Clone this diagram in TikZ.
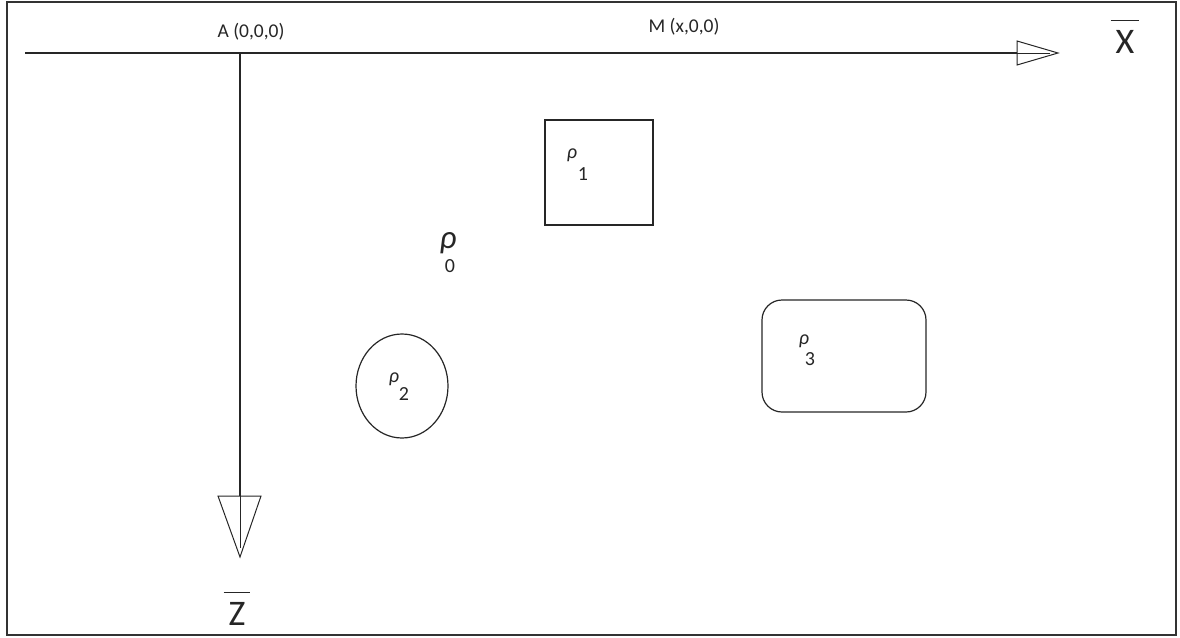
\documentclass[tikz,border=0pt]{standalone}
\usepackage{fontspec}
\usetikzlibrary{shapes.geometric}
\setmainfont{Carlito}
\begin{document}
\begin{tikzpicture}[x=1pt,y=-1pt,
  axis/.style={line width=1.6pt,black!85},
  tip/.style={line width=1pt,black!85,fill=white},
  shp/.style={line width=1.2pt,black!85},
  lab/.style={font=\fontsize{19.5}{21}\selectfont,inner sep=0pt,black!85},
  big/.style={font=\fontsize{36}{38}\selectfont,inner sep=0pt,black!85},
  rhob/.style={font=\fontsize{33}{35}\selectfont\itshape,inner sep=0pt,black!85},
  rhos/.style={font=\fontsize{20}{22}\selectfont\itshape,inner sep=0pt,black!85},
  sub/.style={font=\fontsize{20}{22}\selectfont,inner sep=0pt,black!85}]
\useasboundingbox (0,0) rectangle (1180,637);
\draw[line width=1.5pt,black!80] (7,2) rectangle (1176,635);
% axes
\coordinate (xs) at (25,53);
\coordinate (xb) at (1017,53);
\coordinate (xt) at (1058,53);
\coordinate (zs) at (240,53);
\coordinate (zb) at (240,496);
\coordinate (zt) at (240,557);
\draw[axis] (xs) -- (xb);
\draw[axis] (zs) -- (zb);
\draw[tip] (1017,41) -- (xt) -- (1017,65) -- cycle;
\draw[tip] (218,496) -- (zt) -- (261,496) -- cycle;
\draw[line width=1pt,black!85] (xb) -- (1050,53);
\draw[line width=1pt,black!85] (zb) -- (240,548);
\node[lab] (A) at (251,32) {A (0,0,0)};
\node[lab] (M) at (684,27) {M (x,0,0)};
\node[big,anchor=base] (X) at (1125,53) {$\overline{\mbox{\kern5pt\rule{0pt}{0.86em}X\kern5pt}}$};
\node[big,anchor=base] (Z) at (237,625) {$\overline{\mbox{\kern5pt\rule{0pt}{0.86em}Z\kern5pt}}$};
% shapes
\node[shp,draw,minimum width=108pt,minimum height=105pt,inner sep=0pt] (sq) at (599,172.5) {};
\node[shp,draw,ellipse,minimum width=92pt,minimum height=104pt,inner sep=0pt] (ci) at (402,386) {};
\node[shp,draw,rounded corners=20pt,minimum width=164pt,minimum height=112pt,inner sep=0pt] (rr) at (844,356) {};
% labels
\node[rhob] (r0) at (448,243) {ρ};
\node[sub] (s0) at (450,266) {0};
\node[rhos] (r1) at (572,155) {ρ};
\node[sub] (s1) at (583,174) {1};
\node[rhos] (r2) at (394,379) {ρ};
\node[sub] (s2) at (404,394) {2};
\node[rhos] (r3) at (804,341) {ρ};
\node[sub] (s3) at (810,359) {3};
\end{tikzpicture}
\end{document}
